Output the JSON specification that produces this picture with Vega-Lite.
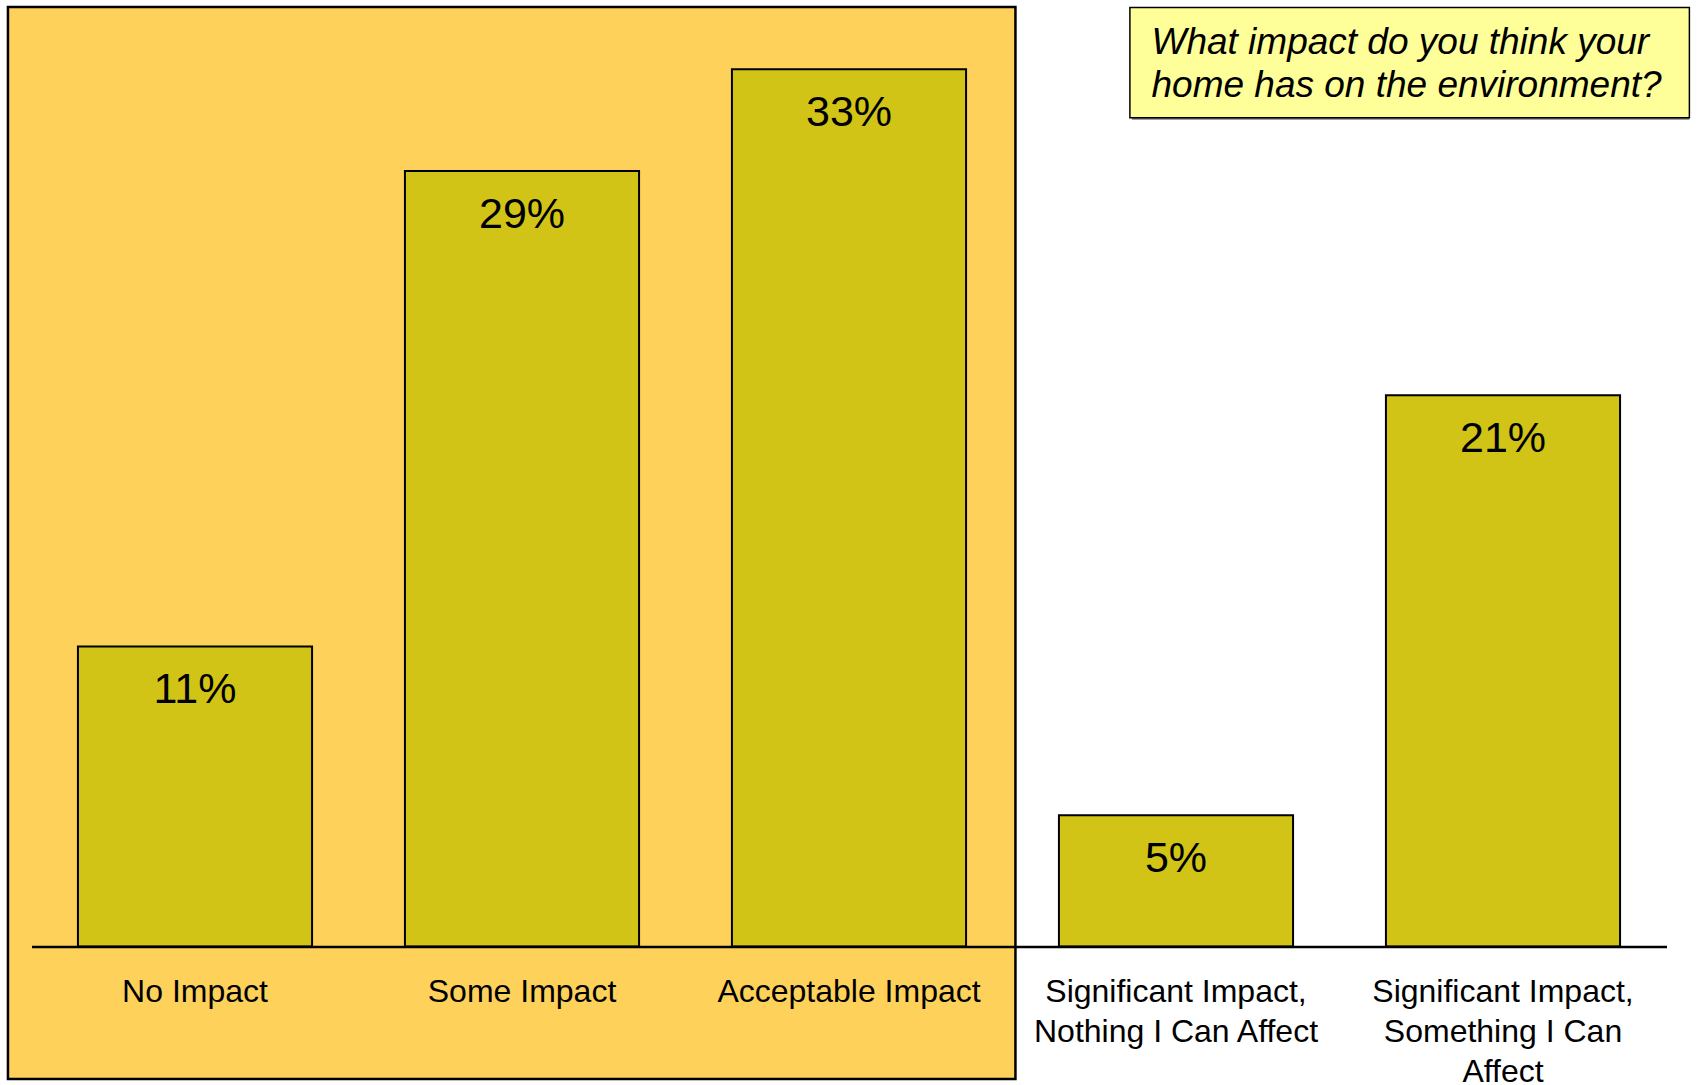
{
  "$schema": "https://vega.github.io/schema/vega-lite/v6.json",
  "width": 1635,
  "height": 946.5,
  "autosize": {"type": "none"},
  "padding": {"left": 31.5, "right": 31.5, "top": 0, "bottom": 138.5},
  "background": "white",
  "config": {"view": {"stroke": null}, "font": "Liberation Sans"},
  "datasets": {
    "bars": [
      {"category": "No Impact", "value": 11.28, "label": "11%"},
      {"category": "Some Impact", "value": 29.15, "label": "29%"},
      {"category": "Acceptable Impact", "value": 32.98, "label": "33%"},
      {"category": "Significant Impact,|Nothing I Can Affect", "value": 4.93, "label": "5%"},
      {"category": "Significant Impact,|Something I Can|Affect", "value": 20.72, "label": "21%"}
    ],
    "highlight": [{"x0": -0.072, "x1": 3.009, "y0": -4.98, "y1": 35.32}],
    "question": [{"x0": 3.359, "x1": 5.07, "y0": 31.15, "y1": 35.3, "xl": 3.425, "yc": 33.22, "text": "What impact do you think your|home has on the environment?"}]
  },
  "layer": [
    {
      "data": {"name": "highlight"},
      "mark": {"type": "rect", "fill": "#FED15B", "stroke": "black", "strokeWidth": 2.5, "clip": false},
      "encoding": {
        "x": {"field": "x0", "type": "quantitative", "scale": {"domain": [0, 5], "nice": false, "zero": false}, "axis": null},
        "x2": {"field": "x1"},
        "y": {"field": "y0", "type": "quantitative", "scale": {"domain": [0, 35.58], "nice": false, "zero": true}, "axis": null},
        "y2": {"field": "y1"}
      }
    },
    {
      "data": {"name": "question"},
      "mark": {"type": "rect", "fill": "#808080", "xOffset": 2, "yOffset": 2, "clip": false},
      "encoding": {
        "x": {"field": "x0", "type": "quantitative", "scale": {"domain": [0, 5], "nice": false, "zero": false}, "axis": null},
        "x2": {"field": "x1"},
        "y": {"field": "y0", "type": "quantitative", "axis": null},
        "y2": {"field": "y1"}
      }
    },
    {
      "data": {"name": "question"},
      "mark": {"type": "rect", "fill": "#FFFF99", "stroke": "black", "strokeWidth": 1.5, "clip": false},
      "encoding": {
        "x": {"field": "x0", "type": "quantitative", "scale": {"domain": [0, 5], "nice": false, "zero": false}, "axis": null},
        "x2": {"field": "x1"},
        "y": {"field": "y0", "type": "quantitative", "axis": null},
        "y2": {"field": "y1"}
      }
    },
    {
      "data": {"name": "question"},
      "transform": [{"calculate": "split(datum.text, '|')", "as": "lines"}],
      "mark": {"type": "text", "font": "Liberation Sans", "fontStyle": "italic", "fontSize": 37, "lineHeight": 43, "align": "left", "baseline": "middle", "dy": -20, "color": "black", "clip": false},
      "encoding": {
        "x": {"field": "xl", "type": "quantitative", "scale": {"domain": [0, 5], "nice": false, "zero": false}, "axis": null},
        "y": {"field": "yc", "type": "quantitative", "axis": null},
        "text": {"field": "lines"}
      }
    },
    {
      "data": {"name": "bars"},
      "layer": [
        {
          "mark": {"type": "bar", "fill": "#D1C416", "stroke": "black", "strokeWidth": 2},
          "encoding": {
            "x": {
              "field": "category", "type": "nominal", "sort": null,
              "scale": {"paddingInner": 0.284, "paddingOuter": 0.142},
              "axis": {
                "title": null, "labelAngle": 0, "ticks": false,
                "domainColor": "black", "domainWidth": 2.5,
                "labelFont": "Liberation Sans", "labelFontSize": 32, "labelColor": "black",
                "labelLineHeight": 40, "labelPadding": 30, "labelBaseline": "top",
                "labelLimit": 0, "zindex": 1,
                "labelExpr": "split(datum.label, '|')"
              }
            },
            "y": {"field": "value", "type": "quantitative", "axis": null}
          }
        },
        {
          "mark": {"type": "text", "font": "Liberation Sans", "fontSize": 43, "align": "center", "baseline": "alphabetic", "dy": 57, "color": "black"},
          "encoding": {
            "x": {"field": "category", "type": "nominal", "sort": null},
            "y": {"field": "value", "type": "quantitative"},
            "text": {"field": "label"}
          }
        }
      ]
    }
  ],
  "resolve": {"scale": {"x": "independent"}}
}
